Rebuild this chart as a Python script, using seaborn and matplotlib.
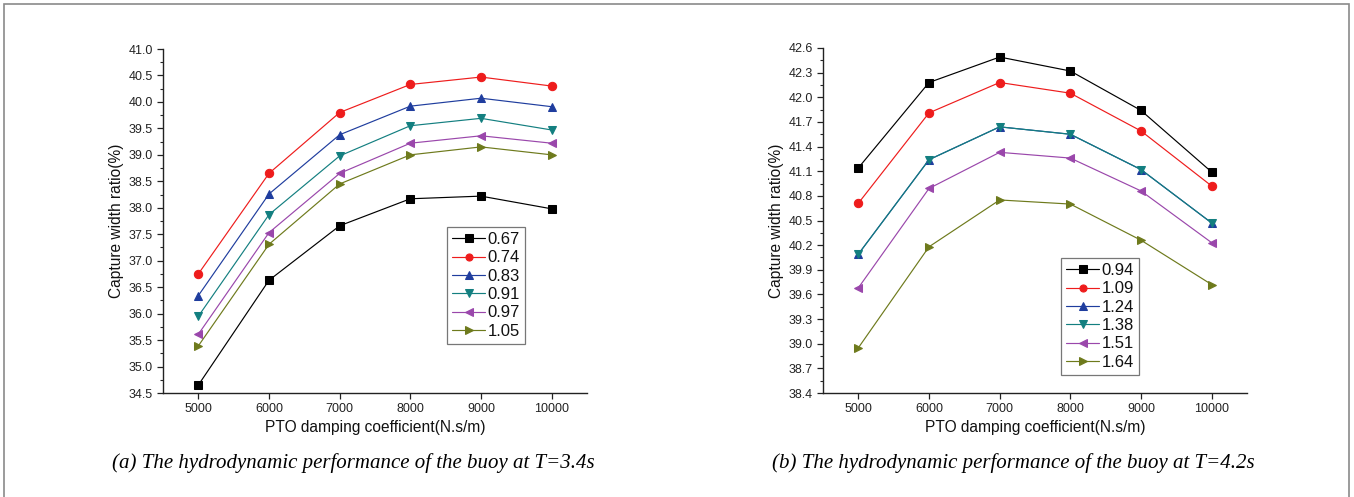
import numpy as np
import pandas as pd
import matplotlib
matplotlib.use("Agg")
import matplotlib.pyplot as plt
import seaborn as sns
from matplotlib.ticker import MultipleLocator, FormatStrFormatter
from matplotlib.patches import Rectangle

# ---------------- data ----------------
damping = [5000, 6000, 7000, 8000, 9000, 10000]

labels_a = ["0.67", "0.74", "0.83", "0.91", "0.97", "1.05"]
s067 = [34.65, 36.63, 37.66, 38.17, 38.22, 37.98]
s074 = [36.75, 38.65, 39.80, 40.33, 40.47, 40.30]
s083 = [36.34, 38.26, 39.38, 39.92, 40.07, 39.91]
s091 = [35.95, 37.87, 38.98, 39.55, 39.69, 39.47]
s097 = [35.61, 37.53, 38.65, 39.22, 39.36, 39.22]
s105 = [35.39, 37.31, 38.45, 39.00, 39.15, 39.00]
series_a = [s067, s074, s083, s091, s097, s105]

labels_b = ["0.94", "1.09", "1.24", "1.38", "1.51", "1.64"]
s094 = [41.14, 42.18, 42.49, 42.32, 41.84, 41.09]
s109 = [40.71, 41.81, 42.18, 42.05, 41.59, 40.92]
s124 = [40.09, 41.24, 41.64, 41.55, 41.12, 40.47]
s138 = [40.09, 41.24, 41.64, 41.55, 41.12, 40.47]
s151 = [39.68, 40.89, 41.33, 41.26, 40.86, 40.23]
s164 = [38.95, 40.18, 40.75, 40.70, 40.26, 39.72]
series_b = [s094, s109, s124, s138, s151, s164]

captions = ["(a) The hydrodynamic performance of the buoy at T=3.4s",
            "(b) The hydrodynamic performance of the buoy at T=4.2s"]
xlabel = "PTO damping coefficient(N.s/m)"
ylabel = "Capture width ratio(%)"

# ---------------- style ----------------
sns.set_style("ticks")
plt.rcParams["font.family"] = ["Liberation Sans", "DejaVu Sans"]
plt.rcParams["text.color"] = "#111111"
plt.rcParams["axes.labelcolor"] = "#111111"

colors = ["#000000", "#ee1c1c", "#1f3d9e", "#137f80", "#9a47ab", "#6e7a1c"]
markers = ["s", "o", "^", "v", "<", ">"]

fig = plt.figure(figsize=(13.54, 4.97), dpi=100)
fig.patch.set_facecolor("white")

# thin grey frame around the figure
fig.add_artist(Rectangle((4 / 1354, -0.01), 1345 / 1354, (497 - 3.5) / 497 + 0.01,
                         transform=fig.transFigure, fill=False,
                         edgecolor="#8a8a8a", linewidth=1.2))

ax_a = fig.add_axes([163 / 1354, 1 - 393 / 497, 424 / 1354, 344 / 497])
ax_b = fig.add_axes([823 / 1354, 1 - 393 / 497, 424 / 1354, 345 / 497])

configs = [
    (ax_a, series_a, labels_a, (34.5, 41.0), 0.5, 0.25, (447, 227), captions[0]),
    (ax_b, series_b, labels_b, (38.4, 42.6), 0.3, 0.15, (1061, 258), captions[1]),
]

for ax, series, labels, ylim, major, minor, legpos, cap in configs:
    for vals, lab, col, mk in zip(series, labels, colors, markers):
        df = pd.DataFrame({"x": damping, "y": vals})
        sns.lineplot(data=df, x="x", y="y", ax=ax, color=col, marker=mk,
                     markersize=6, markeredgecolor=col, markerfacecolor=col,
                     linewidth=0.85, label=lab)
    ax.set_xlim(4500, 10500)
    ax.set_ylim(*ylim)
    ax.set_xticks(damping)
    ax.yaxis.set_major_locator(MultipleLocator(major))
    ax.yaxis.set_minor_locator(MultipleLocator(minor))
    ax.yaxis.set_major_formatter(FormatStrFormatter("%.1f"))
    ax.tick_params(axis="both", which="major", direction="out", length=4,
                   width=0.9, labelsize=9, colors="#222222")
    ax.tick_params(axis="y", which="minor", direction="out", length=2.5, width=0.8)
    for side in ["top", "right"]:
        ax.spines[side].set_visible(False)
    for side in ["left", "bottom"]:
        ax.spines[side].set_linewidth(1.0)
        ax.spines[side].set_color("#222222")
    ax.set_xlabel(xlabel, fontsize=11.2, labelpad=3)
    ax.set_ylabel(ylabel, fontsize=11.2, labelpad=3)

    lx, ly = legpos
    leg = ax.legend(loc="upper left",
                    bbox_to_anchor=(lx / 1354, 1 - ly / 497),
                    bbox_transform=fig.transFigure,
                    fontsize=12, frameon=True, fancybox=False,
                    borderpad=0.3, labelspacing=0.2, handlelength=2.0,
                    handletextpad=0.15, borderaxespad=0.0, markerscale=0.85)
    leg.get_frame().set_edgecolor("#555555")
    leg.get_frame().set_linewidth(0.9)

    pos = ax.get_position()
    fig.text(pos.x0 + pos.width / 2 - 22 / 1354, 1 - 463 / 497, cap,
             ha="center", va="center", fontsize=15, style="italic",
             color="black", family=["Liberation Serif", "DejaVu Serif"])

fig.savefig("out.png", dpi=100, facecolor="white")
